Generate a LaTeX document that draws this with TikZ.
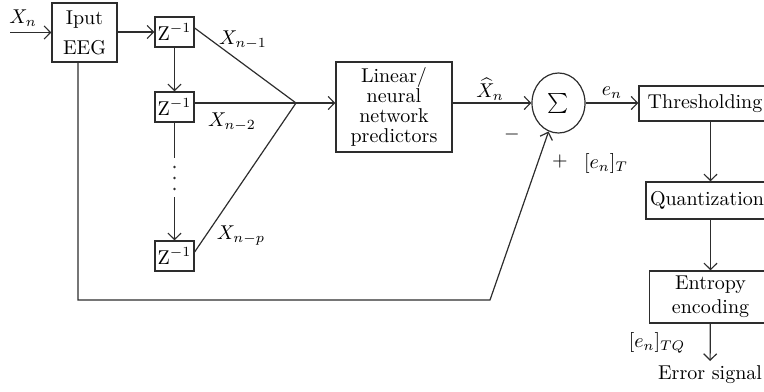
\documentclass[tikz,border=0pt]{standalone}
\usepackage{amsmath,amssymb}
\usepackage{tikz}
\usetikzlibrary{arrows.meta,positioning,calc,shapes.geometric}
\usepackage{xcolor}
\definecolor{ink}{RGB}{45,45,45}
\tikzset{
  blk/.style={draw=ink,line width=0.6pt,inner sep=2pt,align=center},
  dly/.style={draw=ink,line width=0.6pt,minimum width=19.5pt,minimum height=15pt,inner sep=0pt},
  ar/.style={-{Straight Barb[length=3.2pt,width=6.5pt]},draw=ink,line width=0.6pt},
  ln/.style={draw=ink,line width=0.6pt},
  tag/.style={inner sep=1pt},
}
\begin{document}
\begin{tikzpicture}[x=0.5pt,y=-0.5pt]
  \clip (0,0) rectangle (764,391);
  \coordinate (in) at (10,32.5);
  \node[blk,minimum width=32.5pt,minimum height=29.5pt] (eeg) at (84.5,32.5) {Iput\\[3pt]EEG};
  \node[tag] (xn) at (23,18) {$X_n$};
  \draw[ar] (in) -- (eeg);
  \node[dly] (z1) at (174.5,32) {Z$^{-1}$};
  \node[dly] (z2) at (174.5,107) {Z$^{-1}$};
  \node[dly] (z3) at (174.5,256) {Z$^{-1}$};
  \coordinate (dtop) at (174.5,158);
  \coordinate (dbot) at (174.5,197);
  \coordinate (j) at (296,103);
  \draw[ar] (eeg.east |- z1) -- (z1);
  \draw[ar] (z1) -- (z2);
  \draw[ln] (z2) -- (dtop);
  \foreach \y in {167,178,189} \fill[ink] (174.5,\y) circle (0.7pt);
  \draw[ar] (dbot) -- (z3);
  \draw[ln] ([yshift=2pt]z1.east) -- (j);
  \draw[ln] ([yshift=2pt]z2.east) -- (j);
  \draw[ln] ([yshift=2pt]z3.east) -- (j);
  \node[tag] (x1) at (243,40) {$X_{n-1}$};
  \node[tag] (x2) at (232,122) {$X_{n-2}$};
  \node[tag] (xp) at (241,236) {$X_{n-p}$};
  \node[blk,minimum width=58pt,minimum height=45pt,
    font=\fontsize{10}{10}\selectfont] (lin) at (394,107) {Linear/\\neural\\network\\predictors};
  \draw[ar] (j) -- (j -| lin.west);
  \node[draw=ink,line width=0.6pt,ellipse,minimum width=26.5pt,minimum height=30pt,inner sep=0pt] (sum) at (558.5,103) {$\sum$};
  \draw[ar] (sum.west -| lin.east) -- (sum.west);
  \node[tag] (xh) at (490,89) {$\widehat{X}_n$};
  \node[tag] (mi) at (512,134) {$-$};
  \node[tag] (pl) at (560,161) {$+$};
  \node[tag] (et) at (606,163) {$[e_n]_T$};
  \coordinate (fb1) at (78,300);
  \coordinate (fb2) at (490,300);
  \draw[ar] (eeg.south -| fb1) -- (fb1) -- (fb2) -- (sum);
  \node[blk,minimum width=66pt,minimum height=17.5pt] (thr) at (705,103.5) {Thresholding};
  \draw[ar] (sum.east) -- node[tag,above=1pt]{$e_n$} (sum.east -| thr.west);
  \node[blk,minimum width=58.5pt,minimum height=18.5pt] (qua) at (707,200.5) {Quantization};
  \node[blk,minimum width=61pt,minimum height=26pt] (ent) at (710.5,297) {Entropy\\encoding};
  \node[inner sep=2pt,anchor=north] (err) at (710,361) {Error signal};
  \draw[ar] (thr.south -| ent.north) -- (qua.north -| ent.north);
  \draw[ar] (qua.south -| ent.north) -- (ent);
  \draw[ar] (ent) -- (err);
  \node[tag] (etq) at (657,343) {$[e_n]_{TQ}$};
\end{tikzpicture}
\end{document}
